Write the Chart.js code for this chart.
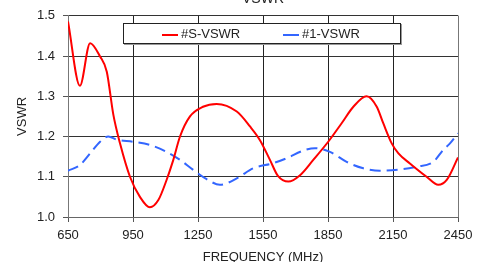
<html>
<head>
    <script src="https://cdn.jsdelivr.net/npm/chart.js"></script>
    <style>
        body { margin: 0; width: 488px; height: 262px; overflow: hidden; background: #fff; position: relative; font-family: "Liberation Sans", Arial, sans-serif; }
        .grafico { position: absolute; left: 0; top: -10px; width: 488px; height: 280px; }
        .legenda { position: absolute; left: 123px; top: 23px; width: 276px; height: 19px; border: 1px solid #222; background: #fff; box-shadow: 1px 1px 0 #999; font-size: 13px; color: #222; }
        .item { position: absolute; top: 2px; line-height: 15px; }
        .item span { display: inline-block; width: 16px; height: 2px; vertical-align: middle; margin-right: 3px; }
    </style>
    <title>VSWR</title>
</head>
<body>
    <div class="grafico"><canvas id="myChart" width="488" height="280"></canvas></div>
    <div class="legenda">
        <div class="item" style="left: 38px;"><span style="background: #ff0000;"></span>#S-VSWR</div>
        <div class="item" style="left: 159px;"><span style="background: #3366ff;"></span>#1-VSWR</div>
    </div>
    <script>
        // valores
        var freqS = [650, 705, 752, 798, 829, 859, 890, 936, 982, 1028, 1067, 1105, 1135, 1167, 1213, 1273, 1336, 1429, 1490, 1536, 1582, 1619, 1667, 1721, 1782, 1851, 1913, 1967, 2028, 2075, 2105, 2144, 2175, 2228, 2305, 2359, 2398, 2450];
        var vswrS = [1.486, 1.326, 1.432, 1.399, 1.361, 1.255, 1.183, 1.100, 1.050, 1.024, 1.042, 1.092, 1.140, 1.200, 1.250, 1.274, 1.281, 1.262, 1.225, 1.191, 1.142, 1.102, 1.088, 1.104, 1.142, 1.187, 1.233, 1.274, 1.300, 1.274, 1.233, 1.183, 1.158, 1.133, 1.100, 1.080, 1.092, 1.148];

        var freq1 = [650, 705, 752, 798, 836, 875, 951, 1028, 1105, 1167, 1228, 1290, 1351, 1429, 1505, 1598, 1659, 1736, 1790, 1859, 1936, 2013, 2090, 2182, 2259, 2336, 2382, 2413, 2450];
        var vswr1 = [1.115, 1.129, 1.158, 1.187, 1.200, 1.192, 1.187, 1.179, 1.162, 1.142, 1.117, 1.094, 1.080, 1.096, 1.121, 1.134, 1.146, 1.165, 1.171, 1.162, 1.137, 1.121, 1.115, 1.118, 1.125, 1.137, 1.167, 1.183, 1.208];

        var xTicks = [650, 950, 1250, 1550, 1850, 2150, 2450];
        var yTicks = [1.0, 1.1, 1.2, 1.3, 1.4, 1.5];

        function pontos(xs, ys) {
            return xs.map(function (x, i) { return { x: x, y: ys[i] }; });
        }

        var ctx = document.getElementById('myChart').getContext('2d');
        Chart.defaults.font.family = '"Liberation Sans", Arial, sans-serif';
        Chart.defaults.color = '#222';

        var myChart = new Chart(ctx, {
            type: 'line',
            data: {
                datasets: [{
                    label: '#S-VSWR',
                    data: pontos(freqS, vswrS),
                    borderColor: '#ff0000',
                    borderWidth: 2,
                    pointRadius: 0,
                    cubicInterpolationMode: 'monotone',
                    fill: false
                }, {
                    label: '#1-VSWR',
                    data: pontos(freq1, vswr1),
                    borderColor: '#3366ff',
                    borderWidth: 2,
                    borderDash: [11, 6],
                    pointRadius: 0,
                    cubicInterpolationMode: 'monotone',
                    fill: false
                }]
            },
            options: {
                responsive: false,
                animation: false,
                layout: { padding: { top: 0, right: 30, bottom: 0, left: 0 } },
                plugins: {
                    legend: { display: false },
                    tooltip: { enabled: false },
                    title: {
                        display: true,
                        text: 'VSWR',
                        fullSize: false,
                        font: { size: 14, weight: 'normal' },
                        color: '#222',
                        padding: { top: 1, bottom: 8 }
                    }
                },
                scales: {
                    x: {
                        type: 'linear',
                        min: 650,
                        max: 2450,
                        afterBuildTicks: function (scale) {
                            scale.ticks = xTicks.map(function (v) { return { value: v }; });
                        },
                        afterFit: function (scale) { scale.height = 280 - 227; },
                        ticks: { font: { size: 13 }, padding: 6, maxRotation: 0, callback: function (v) { return v; } },
                        grid: { color: '#222', tickLength: 5, tickColor: '#555' },
                        border: { color: '#666' },
                        title: { display: true, text: 'FREQUENCY (MHz)', font: { size: 13 }, padding: { top: 0, bottom: 5 } }
                    },
                    y: {
                        min: 1.0,
                        max: 1.5,
                        afterBuildTicks: function (scale) {
                            scale.ticks = yTicks.map(function (v) { return { value: v }; });
                        },
                        afterFit: function (scale) { scale.width = 68; },
                        ticks: { font: { size: 13 }, padding: 8, callback: function (v) { return v.toFixed(1); } },
                        grid: { color: '#333', tickLength: 5, tickColor: '#555' },
                        border: { color: '#777' },
                        title: { display: true, text: 'VSWR', font: { size: 13 }, padding: { top: 15, bottom: 0 } }
                    }
                }
            },
            plugins: [{
                id: 'bordaDireita',
                afterDraw: function (chart) {
                    var a = chart.chartArea, c = chart.ctx;
                    c.save();
                    c.strokeStyle = '#777';
                    c.lineWidth = 1;
                    c.beginPath();
                    c.moveTo(Math.round(a.right) + 0.5, a.top);
                    c.lineTo(Math.round(a.right) + 0.5, a.bottom);
                    c.stroke();
                    c.restore();
                }
            }]
        });
    </script>
</body>
</html>
